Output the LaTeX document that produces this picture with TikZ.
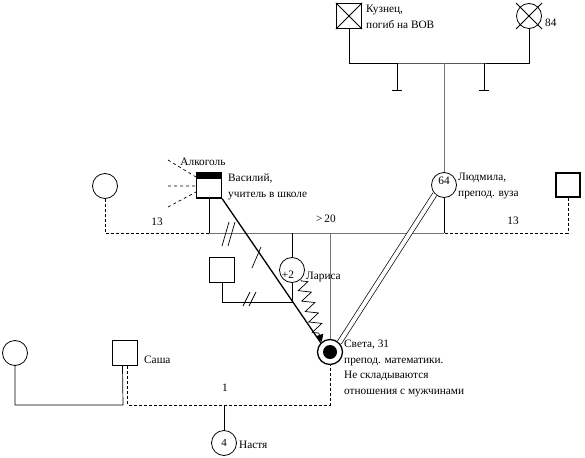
\documentclass[tikz,border=0pt]{standalone}
\usepackage{fontspec}
\setmainfont{Liberation Serif}
\usetikzlibrary{arrows.meta,calc,decorations.pathmorphing}
\colorlet{bondgrey}{black!55}
\tikzset{
  malebox/.style={rectangle, draw, line width=1.3pt, minimum size=25pt, inner sep=0pt},
  femalebox/.style={circle, draw, line width=0.8pt, minimum size=25pt, inner sep=0pt,
    font=\fontsize{11}{12}\selectfont},
  namelabel/.style={anchor=west, align=left, inner sep=1pt,
    font=\fontsize{11.3}{15.5}\selectfont},
  yearlabel/.style={font=\fontsize{11.3}{12}\selectfont, inner sep=1pt},
  bondline/.style={draw=bondgrey, line width=0.8pt},
  kinline/.style={draw=black, line width=0.7pt},
  distline/.style={kinline, dashed, dash pattern=on 3pt off 2pt}
}

\begin{document}
\begin{tikzpicture}[x=1pt,y=-1pt]
\useasboundingbox (0,0) rectangle (585,457);

% grandparents
\node[malebox] (kuz) at (349,16) {};
\draw[line width=0.8pt] (kuz.north west) -- (kuz.south east) (kuz.north east) -- (kuz.south west);
\node[namelabel] (kuzlabel) at (365,17) {Кузнец,\\погиб на ВОВ};
\node[femalebox] (granny) at (529,16) {};
\draw[line width=0.8pt] ([shift={(-13pt,13pt)}]granny.center) -- ([shift={(13pt,-13pt)}]granny.center)
  ([shift={(13pt,13pt)}]granny.center) -- ([shift={(-13pt,-13pt)}]granny.center);
\node[yearlabel, anchor=west] (grannyage) at (544,23) {84};
\coordinate (topbond) at (444,63);
\draw[kinline] (kuz.south) |- (topbond) -| (granny.south);
\foreach \x in {397,484}
  \draw[kinline] (\x,63) -- (\x,90) (\x-5,90) -- (\x+5,90);

% parents
\node[femalebox] (lyud) at (444,185) {};
\node[yearlabel] (lyudage) at ([yshift=4pt]lyud.center) {64};
\node[namelabel] (lyudlabel) at (457,186) {Людмила,\\препод. вуза};
\draw[bondline] (topbond) -- (lyud.north);
\node[malebox, minimum size=24pt] (rightm) at (568,185) {};

\node[malebox] (vas) at (209,185.5) {};
\fill ([shift={(0.6pt,-0.6pt)}]vas.north west) rectangle ([yshift=-6.5pt]vas.north east);
\node[yearlabel] (alc) at (203,162) {Алкоголь};
\node[namelabel] (vaslabel) at (227,187) {Василий,\\учитель в школе};
\draw[kinline, dashed] (168,160) -- (196,177) (168,186) -- (196,186) (168,207) -- (196,192);
\node[femalebox] (leftf) at (105,186) {};

\coordinate (vasbond) at (209,233);
\coordinate (larbond) at (292,233);
\coordinate (svetabond) at (330,233);
\coordinate (lyudbond) at (444,233);
\draw[kinline] (vas.south) -- (vasbond);
\draw[kinline] (lyud.south) -- (lyudbond);
\draw[bondline] (vasbond) -- (lyudbond);
\draw[distline] (leftf.south) |- (vasbond);
\draw[distline] (rightm.south) |- (lyudbond);
\node[yearlabel] (lefty) at (157,222) {13};
\node[yearlabel] (righty) at (513,221) {13};
\node[yearlabel] (marry) at (326,219) {>\,20};
\draw[kinline] (222,246) -- (229,222) (228,246) -- (235,222);

% Larisa
\node[femalebox] (lar) at (292,270) {};
\node[yearlabel] (larage) at ([shift={(-4pt,-5pt)}]lar.center) {+2};
\node[namelabel] (larlabel) at (305,277) {Лариса};
\node[malebox] (larm) at (222,270) {};
\coordinate (larmbond) at (292,302);
\draw[kinline] (larbond) -- (lar.north);
\draw[kinline] (larm.south) |- (larmbond) -- (lar.south);
\draw[kinline] (243,306) -- (250,292) (249,306) -- (256,292);

% Sveta
\node[femalebox, line width=1.3pt] (sveta) at (330,352) {};
\node[circle, fill, minimum size=14pt, inner sep=0pt] (svetain) at (sveta) {};
\node[namelabel, anchor=north west] (svetalabel) at (343,339)
  {Света, 31\\препод. математики.\\Не складываются\\отношения с мужчинами};
\draw[bondline] (svetabond) -- (sveta.north);
\draw[line width=1.3pt] (vas.south east) -- (sveta.north west);
\draw[kinline] (252,268) -- (261,247);
\draw[kinline, double, double distance=4pt] (lyud.south west) -- (sveta.north east);
\draw[kinline, -{Triangle[length=7pt,width=8pt]},
  decoration={zigzag, amplitude=6pt, segment length=11pt, pre length=1pt, post length=7pt},
  decorate] (301,280) -- ([shift={(1pt,1pt)}]sveta.north west);

% Sasha and Nastya
\node[malebox] (sasha) at (125,353) {};
\node[namelabel] (sashalabel) at (143,360) {Саша};
\node[femalebox] (leftf2) at (15,353) {};
\coordinate (sashabond) at (123,405);
\coordinate (svetadist) at (330,405);
\coordinate (nastyabond) at (224,405);
\draw[kinline] (leftf2.south) |- (sashabond) -- ([xshift=-2.5pt]sasha.south);
\draw[distline] ([xshift=2.5pt]sasha.south) |- (svetadist) -- (sveta.south);
\node[yearlabel] (sashay) at (225,388) {1};
\node[femalebox] (nastya) at (224,443) {4};
\node[namelabel] (nastyalabel) at (238,445) {Настя};
\draw[kinline] (nastyabond) -- (nastya.north);
\end{tikzpicture}
\end{document}
